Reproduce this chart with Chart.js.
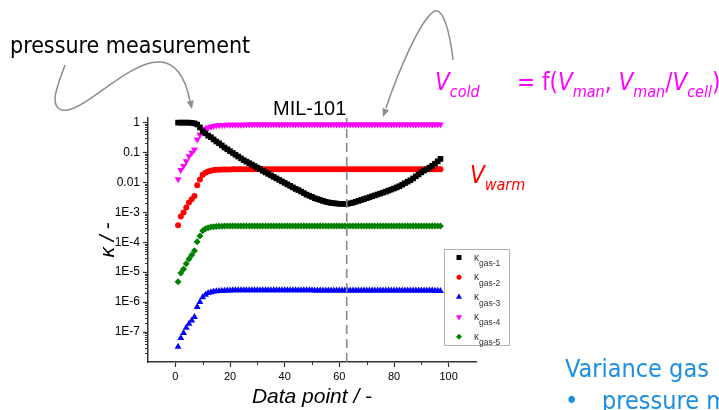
<!DOCTYPE html>
<html>
<head>
<meta charset="utf-8">
<script src="https://cdn.jsdelivr.net/npm/chart.js@4/dist/chart.umd.min.js"></script>
<style>
html, body { margin: 0; padding: 0; background: #fff; }
#wrap { position: relative; width: 719px; height: 410px; overflow: hidden; }
#wrap canvas { position: absolute; left: 0; top: 0; }
.txt { position: absolute; white-space: nowrap; line-height: 1; font-family: "DejaVu Sans Condensed", "DejaVu Sans", sans-serif; }
.it { font-style: italic; }
.sub { font-size: 16px; font-style: italic; vertical-align: -7px; }
</style>
</head>
<body>
<div id="wrap">
  <canvas id="myChart" width="719" height="410"></canvas>
  <div class="txt" style="left:10px; top:34px; font-size:23px; color:#000;">pressure measurement</div>
  <div class="txt" style="left:273px; top:98px; font-size:20px; color:#000; font-family:'Liberation Sans', Arial, sans-serif;">MIL-101</div>
  <div class="txt" style="left:435px; top:70px; font-size:24px; color:#ff00ff;"><span class="it">V</span><span class="sub">cold</span></div>
  <div class="txt" style="left:517px; top:70px; font-size:24px; color:#ff00ff;">= f(<span class="it">V</span><span class="sub">man</span>, <span class="it">V</span><span class="sub">man</span>/<span class="it">V</span><span class="sub">cell</span>)</div>
  <div class="txt" style="left:470px; top:163px; font-size:24px; color:#ff0000;"><span class="it">V</span><span class="sub">warm</span></div>
  <div class="txt" style="left:565px; top:356px; font-size:25px; color:#1c8fdf;">Variance gas</div>
  <div class="txt" style="left:565px; top:388px; font-size:25px; color:#1c8fdf;">•</div>
  <div class="txt" style="left:602px; top:388px; font-size:25px; color:#1c8fdf;">pressure m</div>
</div>
<script>
// data (kappa per data point, log axis)
const dataPoint = [
  1, 2, 3, 4, 5, 6, 7, 8, 9, 10, 11, 12, 13, 14, 15, 16, 17, 18, 19, 20,
  21, 22, 23, 24, 25, 26, 27, 28, 29, 30, 31, 32, 33, 34, 35, 36, 37, 38, 39, 40,
  41, 42, 43, 44, 45, 46, 47, 48, 49, 50, 51, 52, 53, 54, 55, 56, 57, 58, 59, 60,
  61, 62, 63, 64, 65, 66, 67, 68, 69, 70, 71, 72, 73, 74, 75, 76, 77, 78, 79, 80,
  81, 82, 83, 84, 85, 86, 87, 88, 89, 90, 91, 92, 93, 94, 95, 96, 97
];

const kGas1 = [
  0.98, 0.98, 0.98, 0.98, 0.98, 0.96, 0.93, 0.85, 0.68, 0.50,
  0.43, 0.36, 0.32, 0.27, 0.23, 0.20, 0.17, 0.145, 0.126, 0.110,
  0.0955, 0.0832, 0.0724, 0.0631, 0.0550, 0.0490, 0.0437, 0.0389, 0.0347, 0.0309,
  0.0275, 0.0240, 0.0214, 0.0191, 0.0170, 0.0151, 0.0135, 0.0120, 0.0107, 0.00955,
  0.00851, 0.00759, 0.00676, 0.00603, 0.00550, 0.00490, 0.00437, 0.00389, 0.00355, 0.00324,
  0.00295, 0.00275, 0.00257, 0.00240, 0.00224, 0.00214, 0.00204, 0.00200, 0.00195, 0.00191,
  0.00191, 0.00191, 0.00191, 0.00200, 0.00209, 0.00224, 0.00240, 0.00257, 0.00275, 0.00295,
  0.00316, 0.00340, 0.00365, 0.00392, 0.00420, 0.00452, 0.00488, 0.00528, 0.00572, 0.00620,
  0.00676, 0.00741, 0.00832, 0.00933, 0.0105, 0.0117, 0.0135, 0.0158, 0.0182, 0.0214,
  0.0245, 0.0275, 0.0309, 0.0355, 0.0417, 0.0501, 0.0603
];

const kGas2 = [
  3.7e-4, 7.2e-4, 9.8e-4, 1.44e-3, 2.1e-3, 2.7e-3, 3.5e-3, 7.9e-3, 0.0125, 0.018,
  0.021, 0.023, 0.0245, 0.0255, 0.026, 0.026, 0.0265, 0.0265, 0.0265, 0.0265,
  0.027, 0.027, 0.027, 0.027, 0.027, 0.027, 0.027, 0.027, 0.027, 0.027,
  0.027, 0.027, 0.027, 0.027, 0.027, 0.027, 0.027, 0.027, 0.027, 0.027,
  0.027, 0.027, 0.027, 0.027, 0.027, 0.027, 0.027, 0.027, 0.027, 0.027,
  0.027, 0.027, 0.027, 0.027, 0.027, 0.027, 0.027, 0.027, 0.027, 0.027,
  0.027, 0.027, 0.027, 0.027, 0.027, 0.027, 0.027, 0.027, 0.027, 0.027,
  0.027, 0.027, 0.027, 0.027, 0.027, 0.027, 0.027, 0.027, 0.027, 0.027,
  0.027, 0.027, 0.027, 0.027, 0.027, 0.027, 0.027, 0.027, 0.027, 0.027,
  0.027, 0.027, 0.027, 0.027, 0.027, 0.027, 0.027
];

const kGas3 = [
  3.2e-8, 6.3e-8, 9.3e-8, 1.38e-7, 1.9e-7, 2.45e-7, 3.2e-7, 6.8e-7, 1.0e-6, 1.45e-6,
  1.75e-6, 2.0e-6, 2.15e-6, 2.25e-6, 2.3e-6, 2.35e-6, 2.4e-6, 2.4e-6, 2.45e-6, 2.45e-6,
  2.5e-6, 2.5e-6, 2.5e-6, 2.5e-6, 2.5e-6, 2.5e-6, 2.5e-6, 2.5e-6, 2.5e-6, 2.5e-6,
  2.5e-6, 2.5e-6, 2.5e-6, 2.5e-6, 2.5e-6, 2.5e-6, 2.5e-6, 2.5e-6, 2.5e-6, 2.5e-6,
  2.5e-6, 2.5e-6, 2.5e-6, 2.5e-6, 2.5e-6, 2.5e-6, 2.5e-6, 2.5e-6, 2.5e-6, 2.5e-6,
  2.45e-6, 2.45e-6, 2.45e-6, 2.45e-6, 2.45e-6, 2.45e-6, 2.45e-6, 2.45e-6, 2.45e-6, 2.45e-6,
  2.45e-6, 2.45e-6, 2.45e-6, 2.45e-6, 2.45e-6, 2.45e-6, 2.45e-6, 2.45e-6, 2.45e-6, 2.45e-6,
  2.45e-6, 2.45e-6, 2.45e-6, 2.45e-6, 2.45e-6, 2.45e-6, 2.45e-6, 2.45e-6, 2.45e-6, 2.45e-6,
  2.45e-6, 2.45e-6, 2.45e-6, 2.45e-6, 2.45e-6, 2.45e-6, 2.45e-6, 2.45e-6, 2.45e-6, 2.45e-6,
  2.45e-6, 2.45e-6, 2.45e-6, 2.45e-6, 2.4e-6, 2.4e-6, 2.35e-6
];

const kGas4 = [
  0.0126, 0.0256, 0.035, 0.050, 0.074, 0.096, 0.124, 0.27, 0.39, 0.50,
  0.60, 0.67, 0.72, 0.76, 0.78, 0.80, 0.81, 0.82, 0.83, 0.83,
  0.84, 0.84, 0.84, 0.84, 0.84, 0.85, 0.85, 0.85, 0.85, 0.85,
  0.85, 0.85, 0.85, 0.85, 0.85, 0.85, 0.85, 0.85, 0.85, 0.85,
  0.85, 0.85, 0.85, 0.85, 0.85, 0.85, 0.85, 0.85, 0.85, 0.85,
  0.85, 0.85, 0.85, 0.85, 0.85, 0.85, 0.85, 0.85, 0.85, 0.85,
  0.85, 0.85, 0.85, 0.85, 0.85, 0.85, 0.85, 0.85, 0.85, 0.85,
  0.85, 0.85, 0.85, 0.85, 0.85, 0.85, 0.85, 0.85, 0.85, 0.85,
  0.85, 0.85, 0.85, 0.85, 0.85, 0.85, 0.85, 0.85, 0.85, 0.85,
  0.85, 0.85, 0.85, 0.85, 0.85, 0.85, 0.85
];

const kGas5 = [
  4.8e-6, 9.3e-6, 1.28e-5, 1.9e-5, 2.75e-5, 3.7e-5, 5.2e-5, 1.03e-4, 1.6e-4, 2.4e-4,
  2.8e-4, 3.05e-4, 3.2e-4, 3.3e-4, 3.35e-4, 3.4e-4, 3.4e-4, 3.45e-4, 3.45e-4, 3.45e-4,
  3.5e-4, 3.5e-4, 3.5e-4, 3.5e-4, 3.5e-4, 3.5e-4, 3.5e-4, 3.5e-4, 3.5e-4, 3.5e-4,
  3.5e-4, 3.5e-4, 3.5e-4, 3.5e-4, 3.5e-4, 3.5e-4, 3.5e-4, 3.5e-4, 3.5e-4, 3.5e-4,
  3.5e-4, 3.5e-4, 3.5e-4, 3.5e-4, 3.5e-4, 3.5e-4, 3.5e-4, 3.5e-4, 3.5e-4, 3.5e-4,
  3.5e-4, 3.5e-4, 3.5e-4, 3.5e-4, 3.5e-4, 3.5e-4, 3.5e-4, 3.5e-4, 3.5e-4, 3.5e-4,
  3.5e-4, 3.5e-4, 3.5e-4, 3.5e-4, 3.5e-4, 3.5e-4, 3.5e-4, 3.5e-4, 3.5e-4, 3.5e-4,
  3.5e-4, 3.5e-4, 3.5e-4, 3.5e-4, 3.5e-4, 3.5e-4, 3.5e-4, 3.5e-4, 3.5e-4, 3.5e-4,
  3.5e-4, 3.5e-4, 3.5e-4, 3.5e-4, 3.5e-4, 3.5e-4, 3.5e-4, 3.5e-4, 3.5e-4, 3.5e-4,
  3.5e-4, 3.5e-4, 3.5e-4, 3.5e-4, 3.5e-4, 3.5e-4, 3.5e-4
];

const seriesNames = ['gas-1', 'gas-2', 'gas-3', 'gas-4', 'gas-5'];
const xTicks = [0, 20, 40, 60, 80, 100];
const xMinorTicks = [10, 30, 50, 70, 90];
const yTicks = [1e-7, 1e-6, 1e-5, 1e-4, 1e-3, 0.01, 0.1, 1];
const yTickLabels = ['1E-7', '1E-6', '1E-5', '1E-4', '1E-3', '0.01', '0.1', '1'];
const markerX = 62.7;   // dashed line position

const colors = ['#000000', '#ff0000', '#0000ff', '#ff00ff', '#008000'];
const styles = ['rect', 'circle', 'triangle', 'triangle', 'rectRot'];
const rotations = [0, 0, 0, 180, 0];
const radii = [4, 3, 4, 4, 3.5];
const axisColor = '#333333';
const tickFont = "'Liberation Sans', Arial, sans-serif";

function toPoints(ys) {
  return dataPoint.map(function(x, i) { return { x: x, y: ys[i] }; });
}

const allSeries = [kGas1, kGas2, kGas3, kGas4, kGas5];

const datasets = allSeries.map(function(ys, i) {
  return {
    label: 'κ ' + seriesNames[i],
    data: toPoints(ys),
    backgroundColor: colors[i],
    borderColor: colors[i],
    borderWidth: 0,
    pointStyle: styles[i],
    pointRadius: radii[i],
    pointRotation: rotations[i],
    showLine: false,
    order: i === 0 ? 1 : 2
  };
});

// vertical dashed line at the minimum of gas-1
datasets.push({
  type: 'line',
  label: 'marker',
  data: [{ x: markerX, y: 1e-8 }, { x: markerX, y: 2 }],
  borderColor: '#8a8a8a',
  borderWidth: 1.6,
  borderDash: [9, 5],
  pointRadius: 0,
  order: 0
});

function arrowHead(ctx, fx, fy, tx, ty, size) {
  const a = Math.atan2(ty - fy, tx - fx);
  ctx.beginPath();
  ctx.moveTo(tx, ty);
  ctx.lineTo(tx - size * Math.cos(a - 0.4), ty - size * Math.sin(a - 0.4));
  ctx.lineTo(tx - size * Math.cos(a + 0.4), ty - size * Math.sin(a + 0.4));
  ctx.closePath();
  ctx.fill();
}

const extras = {
  id: 'extras',
  afterDraw(chart) {
    const ctx = chart.ctx;
    const xs = chart.scales.x;
    const ys = chart.scales.y;
    const area = chart.chartArea;
    ctx.save();

    // minor ticks on both axes
    ctx.strokeStyle = axisColor;
    ctx.lineWidth = 1;
    xMinorTicks.forEach(function(v) {
      const px = Math.round(xs.getPixelForValue(v)) + 0.5;
      ctx.beginPath();
      ctx.moveTo(px, area.bottom);
      ctx.lineTo(px, area.bottom + 3);
      ctx.stroke();
    });
    for (let d = 1e-8; d < 1; d *= 10) {
      for (let k = 2; k <= 9; k++) {
        const py = Math.round(ys.getPixelForValue(k * d)) + 0.5;
        ctx.beginPath();
        ctx.moveTo(area.left, py);
        ctx.lineTo(area.left - 3, py);
        ctx.stroke();
      }
    }

    // legend box
    ctx.strokeStyle = '#b0b0b0';
    ctx.lineWidth = 1;
    ctx.strokeRect(444.5, 249.5, 65, 96);
    chart.data.datasets.slice(0, 5).forEach(function(ds, i) {
      const y = 257.5 + i * 19.8;
      ctx.fillStyle = colors[i];
      Chart.helpers.drawPoint(ctx, { pointStyle: styles[i], radius: radii[i] - 0.5, rotation: rotations[i], borderWidth: 0 }, 459, y);
      ctx.fillStyle = '#333';
      ctx.textAlign = 'left';
      ctx.textBaseline = 'alphabetic';
      ctx.font = '10px ' + tickFont;
      ctx.fillText('κ', 474, y + 3);
      ctx.font = '8.5px ' + tickFont;
      ctx.fillText(seriesNames[i], 479, y + 8.5);
    });

    // curved arrows of the slide
    ctx.strokeStyle = '#8c8c8c';
    ctx.fillStyle = '#8c8c8c';
    ctx.lineWidth = 1.5;
    ctx.beginPath();
    ctx.moveTo(65, 65);
    ctx.bezierCurveTo(58, 85, 48, 106, 62, 110);
    ctx.bezierCurveTo(82, 115, 128, 60, 160, 62);
    ctx.bezierCurveTo(180, 63, 187, 86, 190, 101);
    ctx.stroke();
    arrowHead(ctx, 189, 96, 192, 109, 9);

    ctx.beginPath();
    ctx.moveTo(453, 60);
    ctx.bezierCurveTo(450, 32, 443, 8, 435, 11);
    ctx.bezierCurveTo(420, 18, 396, 78, 386, 108);
    ctx.stroke();
    arrowHead(ctx, 388, 103, 383, 117, 9);

    ctx.restore();
  }
};

const config = {
  type: 'scatter',
  data: { datasets: datasets },
  options: {
    responsive: false,
    animation: false,
    devicePixelRatio: 1,
    layout: { padding: { left: 96, top: 118, right: 243, bottom: 0 } },
    plugins: {
      legend: { display: false },
      tooltip: { enabled: false },
      title: { display: false }
    },
    scales: {
      x: {
        type: 'linear',
        min: -10,
        max: 110,
        afterBuildTicks: function(s) { s.ticks = xTicks.map(function(v) { return { value: v }; }); },
        afterFit: function(s) { s.height = 48; },
        grid: { drawOnChartArea: false, tickLength: 5, tickColor: axisColor, tickWidth: 1.2 },
        border: { color: axisColor, width: 1.5 },
        ticks: {
          autoSkip: false,
          maxRotation: 0,
          padding: 3,
          color: '#000',
          font: { family: tickFont, size: 11 },
          callback: function(v) { return String(v); }
        },
        title: {
          display: true,
          text: 'Data point / -',
          color: '#000',
          padding: 0,
          font: { family: tickFont, size: 21, style: 'italic' }
        }
      },
      y: {
        type: 'logarithmic',
        min: 1e-8,
        max: 1.4,
        afterBuildTicks: function(s) { s.ticks = yTicks.map(function(v) { return { value: v }; }); },
        afterFit: function(s) { s.width = 52; },
        grid: { drawOnChartArea: false, tickLength: 5, tickColor: axisColor, tickWidth: 1.2 },
        border: { color: axisColor, width: 1.5 },
        ticks: {
          autoSkip: false,
          padding: 3,
          color: '#000',
          font: { family: tickFont, size: 12 },
          callback: function(v, i) { return yTickLabels[i]; }
        },
        title: {
          display: true,
          text: 'κ / -',
          color: '#000',
          padding: 0,
          font: { family: tickFont, size: 21, style: 'italic' }
        }
      }
    }
  },
  plugins: [extras]
};

const myChart = new Chart(document.getElementById('myChart'), config);
</script>
</body>
</html>
